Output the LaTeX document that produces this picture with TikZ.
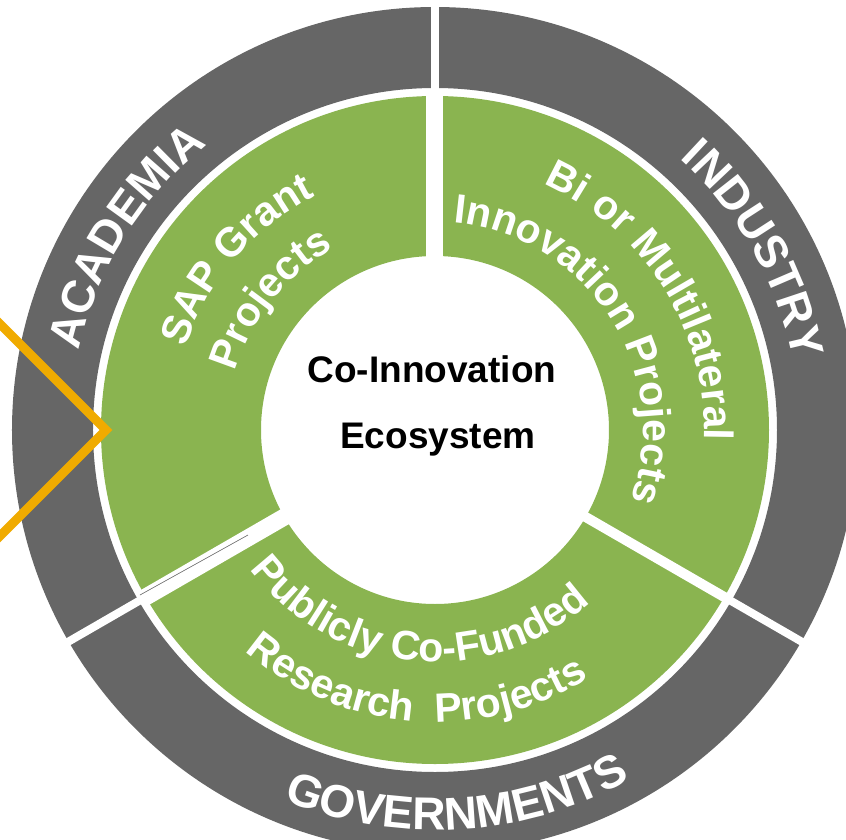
\documentclass[tikz,border=0pt]{standalone}
\usepackage{fontspec}
\setmainfont{Liberation Sans}
\usetikzlibrary{decorations.text}
\definecolor{gris}{HTML}{666666}
\definecolor{verde}{RGB}{138,180,80}
\definecolor{naranja}{RGB}{240,171,0}
\tikzset{
    etiqueta/.style={decorate, decoration={text along path, text align=center, text color=white,
        text={|\bfseries\fontsize{46}{46}\selectfont|#1}}},
    proyecto/.style={decorate, decoration={text along path, text align=center, text color=white,
        text={|\bfseries\fontsize{41}{41}\selectfont|#1}}}
}

\begin{document}
\begin{tikzpicture}[x=1pt,y=1pt]
    \useasboundingbox (-435,-409) rectangle (411,430);
    \clip (-435,-409) rectangle (411,430);

    % Anillo exterior
    \fill[gris, even odd rule] (0,0) circle (423) (0,0) circle (342);

    % Anillo interior
    \fill[verde, even odd rule] (0,0) circle (334) (0,0) circle (174);

    % Separaciones
    \foreach \ang in {90,-30,210}
        \draw[white, line width=8] (\ang:338) -- (\ang:440);
    \foreach \ang/\ancho in {90/17,-30/10,210/17}
        \draw[white, line width=\ancho] (\ang:168) -- (\ang:338);
    \draw[gris, line width=0.6] (-187,-105) -- (-295,-165);

    % Texto central
    \node[font=\bfseries\fontsize{37}{37}\selectfont, anchor=base] (co) at (-3,48) {Co-Innovation};
    \node[font=\bfseries\fontsize{37}{37}\selectfont, anchor=base] (eco) at (3,-18) {Ecosystem};

    % Etiquetas del anillo exterior
    \path[etiqueta=ACADEMIA] (200:365) arc[start angle=200, end angle=96, radius=365];
    \path[etiqueta=INDUSTRY] (80:365) arc[start angle=80, end angle=-21, radius=365];
    \path[etiqueta=GOVERNMENTS] (213.5:400) arc[start angle=213.5, end angle=333.5, radius=400];

    % Etiquetas de los proyectos
    \path[proyecto=SAP Grant] (189.3:263) arc[start angle=189.3, end angle=89.3, radius=263];
    \path[proyecto=Projects] (191.5:208) arc[start angle=191.5, end angle=91.5, radius=208];
    \path[proyecto=Bi or Multilateral] (92:269) arc[start angle=92, end angle=-28, radius=269];
    \path[proyecto=Innovation Projects] (92.6:208) arc[start angle=92.6, end angle=-27.4, radius=208];
    \path[proyecto=Publicly Co-Funded] (204.5:232) arc[start angle=204.5, end angle=324.5, radius=232];
    \path[proyecto=Research\ \ Projects] (205.6:292) arc[start angle=205.6, end angle=325.6, radius=292];

    % Flecha lateral
    \draw[naranja, line width=9] (-445,116) -- (-329,0) -- (-445,-116);
\end{tikzpicture}
\end{document}
